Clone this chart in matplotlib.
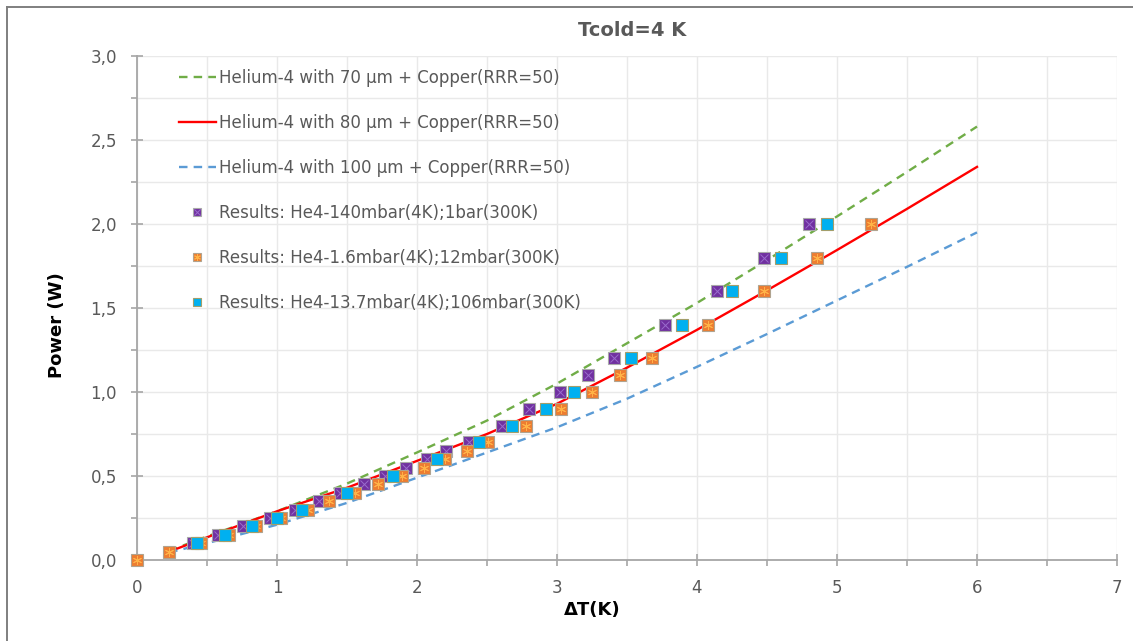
import matplotlib
matplotlib.use("Agg")
import matplotlib.pyplot as plt
from matplotlib.ticker import MultipleLocator, FuncFormatter
from matplotlib.legend_handler import HandlerTuple
from matplotlib.lines import Line2D

# ---- text ----
title = "Tcold=4 K"
x_label = "ΔT(K)"
y_label = "Power (W)"

# ---- model curves: power vs temperature difference ----
model_dt = [0.23, 0.5, 1.0, 1.5, 2.0, 2.5, 3.0, 3.5, 4.0, 4.5, 5.0, 5.5, 6.0]
power_70um = [0.055, 0.14, 0.29, 0.455, 0.64, 0.83, 1.05, 1.29, 1.53, 1.785, 2.045, 2.31, 2.58]
power_80um = [0.05, 0.135, 0.29, 0.43, 0.59, 0.75, 0.93, 1.145, 1.37, 1.605, 1.845, 2.09, 2.34]
power_100um = [0.045, 0.10, 0.21, 0.34, 0.49, 0.64, 0.79, 0.96, 1.15, 1.345, 1.545, 1.745, 1.95]

label_70um = "Helium-4 with 70 µm + Copper(RRR=50)"
label_80um = "Helium-4 with 80 µm + Copper(RRR=50)"
label_100um = "Helium-4 with 100 µm + Copper(RRR=50)"

# ---- measured results ----
dt_140mbar = [0.40, 0.58, 0.76, 0.95, 1.13, 1.30, 1.45, 1.62, 1.77, 1.92, 2.07, 2.21,
              2.37, 2.61, 2.80, 3.02, 3.22, 3.41, 3.77, 4.14, 4.48, 4.80]
p_140mbar = [0.1, 0.15, 0.2, 0.25, 0.3, 0.35, 0.4, 0.45, 0.5, 0.55, 0.6, 0.65,
             0.7, 0.8, 0.9, 1.0, 1.1, 1.2, 1.4, 1.6, 1.8, 2.0]

dt_1p6mbar = [0.0, 0.23, 0.46, 0.66, 0.85, 1.03, 1.22, 1.37, 1.56, 1.72, 1.89, 2.05,
              2.20, 2.36, 2.51, 2.78, 3.03, 3.25, 3.45, 3.68, 4.08, 4.48, 4.86, 5.24]
p_1p6mbar = [0.0, 0.05, 0.1, 0.15, 0.2, 0.25, 0.3, 0.35, 0.4, 0.45, 0.5, 0.55,
             0.6, 0.65, 0.7, 0.8, 0.9, 1.0, 1.1, 1.2, 1.4, 1.6, 1.8, 2.0]

dt_13p7mbar = [0.43, 0.63, 0.82, 1.00, 1.18, 1.50, 1.83, 2.14, 2.44, 2.68, 2.92, 3.12,
               3.53, 3.89, 4.25, 4.60, 4.93]
p_13p7mbar = [0.1, 0.15, 0.2, 0.25, 0.3, 0.4, 0.5, 0.6, 0.7, 0.8, 0.9, 1.0,
              1.2, 1.4, 1.6, 1.8, 2.0]

label_140mbar = "Results: He4-140mbar(4K);1bar(300K)"
label_1p6mbar = "Results: He4-1.6mbar(4K);12mbar(300K)"
label_13p7mbar = "Results: He4-13.7mbar(4K);106mbar(300K)"

# ---- figure ----
W, H = 1133, 641
fig = plt.figure(figsize=(W / 100, H / 100), dpi=100)
ax = fig.add_axes([137 / W, 1 - 560 / H, 980 / W, 504 / H])

txt_gray = "#595959"
axis_gray = "#a6a6a6"

l70, = ax.plot(model_dt, power_70um, color="#70AD47", lw=1.7, ls=(0, (3.6, 2.6)),
               zorder=3, dash_capstyle="butt")
l80, = ax.plot(model_dt, power_80um, color="#FF0000", lw=1.7, zorder=3)
l100, = ax.plot(model_dt, power_100um, color="#5B9BD5", lw=1.7, ls=(0, (3.6, 2.6)),
                zorder=3, dash_capstyle="butt")

ms = 8.6
s1, = ax.plot(dt_140mbar, p_140mbar, ls="none", marker="s", ms=ms, mfc="#7030A0",
              mec="#a9a9a9", mew=0.8, zorder=4, clip_on=False)
s1x, = ax.plot(dt_140mbar, p_140mbar, ls="none", marker="x", ms=ms * 0.7, mec="#9a6ccd",
               mew=0.7, zorder=4.1, clip_on=False)
s2, = ax.plot(dt_1p6mbar, p_1p6mbar, ls="none", marker="s", ms=ms, mfc="#ED7D31",
              mec="#b0a38f", mew=0.8, zorder=5, clip_on=False)
s2x, = ax.plot(dt_1p6mbar, p_1p6mbar, ls="none", marker=(6, 2, 0), ms=ms * 0.75,
               mec="#ffb347", mew=0.7, zorder=5.1, clip_on=False)
s3, = ax.plot(dt_13p7mbar, p_13p7mbar, ls="none", marker="s", ms=ms, mfc="#00B0F0",
              mec="#a39e6a", mew=0.8, zorder=6, clip_on=False)

ax.set_xlim(0, 7)
ax.set_ylim(0, 3)
ax.xaxis.set_major_locator(MultipleLocator(1))
ax.xaxis.set_minor_locator(MultipleLocator(0.5))
ax.yaxis.set_major_locator(MultipleLocator(0.5))
ax.yaxis.set_minor_locator(MultipleLocator(0.25))
ax.xaxis.set_major_formatter(FuncFormatter(lambda v, p: f"{v:.0f}"))
ax.yaxis.set_major_formatter(FuncFormatter(lambda v, p: f"{v:.1f}".replace(".", ",")))

ax.grid(which="both", color="#e9e9e9", lw=1.0, zorder=0)
ax.set_axisbelow(True)
for side in ("top", "right"):
    ax.spines[side].set_visible(False)
for side in ("left", "bottom"):
    ax.spines[side].set_color(axis_gray)
    ax.spines[side].set_linewidth(1.3)

ax.tick_params(which="major", direction="inout", length=9, width=1.2, color=axis_gray,
               labelsize=12, labelcolor=txt_gray)
ax.tick_params(which="minor", direction="out", length=4, width=1.2, color=axis_gray)
ax.tick_params(axis="x", which="major", pad=9)
ax.tick_params(axis="y", which="major", pad=10)

fig.text(632 / W, 1 - 30 / H, title, ha="center", va="center", fontsize=14,
         fontweight="bold", color=txt_gray)
fig.text(592 / W, 1 - 610 / H, x_label, ha="center", va="center", fontsize=13,
         fontweight="bold", color="black")
fig.text(57 / W, 1 - 325 / H, y_label, ha="center", va="center", fontsize=13,
         fontweight="bold", color="black", rotation=90)

handles = [l70, l80, l100, (s1, s1x), (s2, s2x), s3]
labels = [label_70um, label_80um, label_100um, label_140mbar, label_1p6mbar, label_13p7mbar]
leg = fig.legend(handles, labels, loc="upper left", bbox_to_anchor=(179 / W, 1 - 69 / H),
                 frameon=False, fontsize=12, labelcolor=txt_gray, borderpad=0,
                 borderaxespad=0, handlelength=2.2, handletextpad=0.2,
                 labelspacing=1.62, markerscale=0.75,
                 handler_map={tuple: HandlerTuple(ndivide=1)})

# outer chart frame
frame_c = "#7f7f7f"
fig.add_artist(Line2D([7 / W, 1], [1 - 7 / H, 1 - 7 / H], transform=fig.transFigure,
                      color=frame_c, lw=1.4))
fig.add_artist(Line2D([7 / W, 7 / W], [0, 1 - 7 / H], transform=fig.transFigure,
                      color=frame_c, lw=1.4))

fig.savefig("out.png", dpi=100)
